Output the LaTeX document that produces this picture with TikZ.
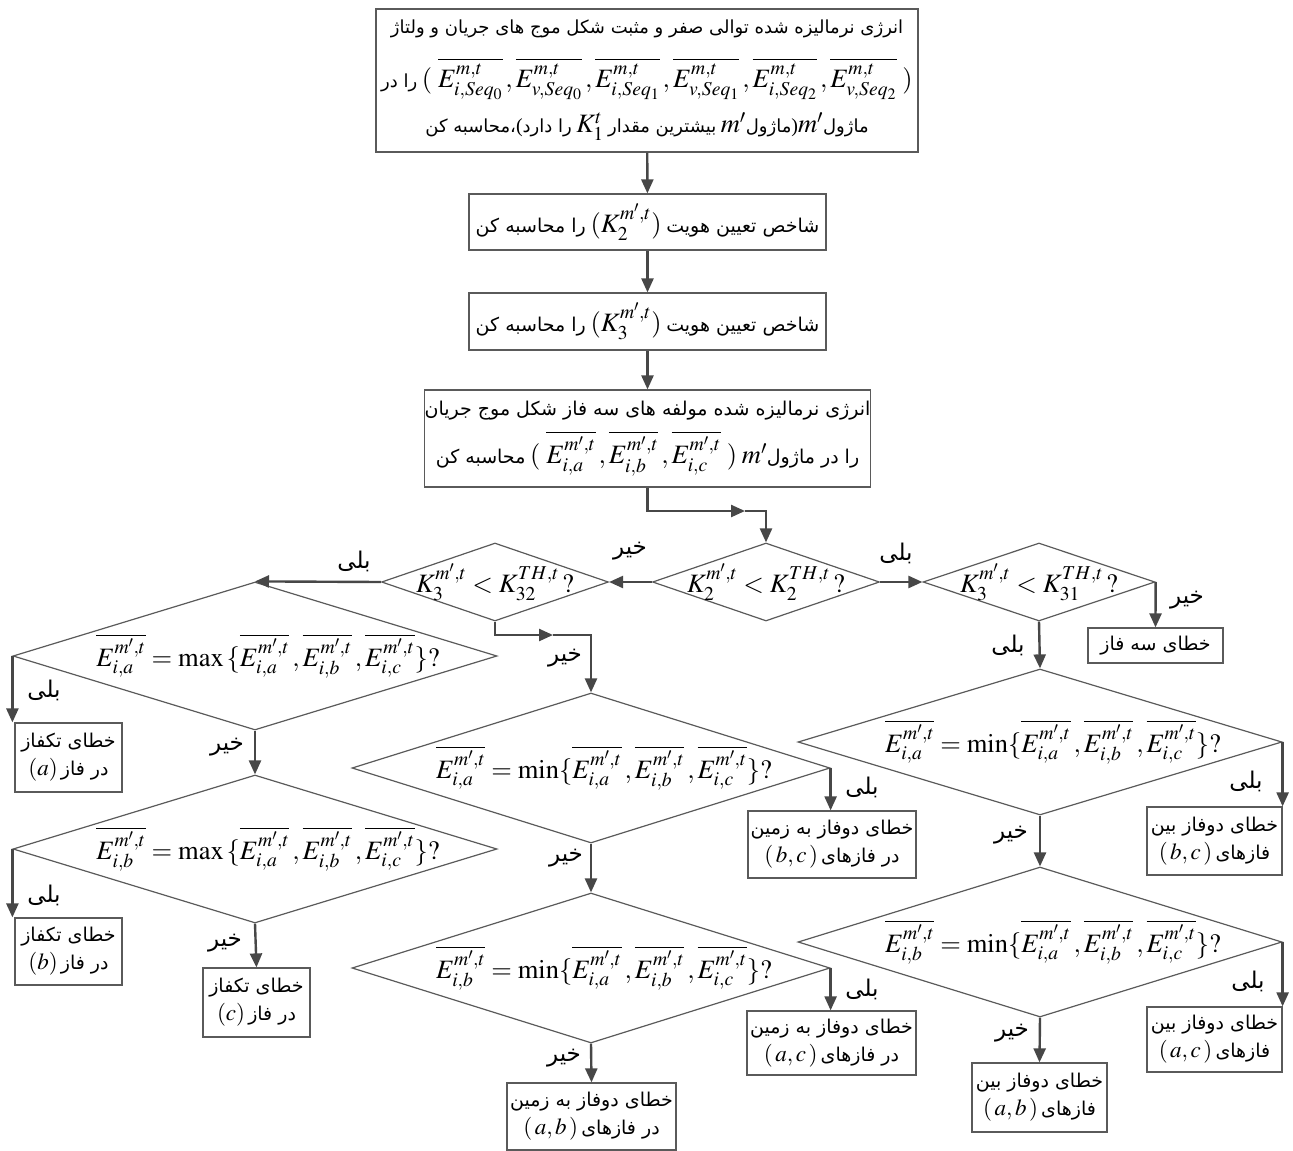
\documentclass[tikz,border=0pt]{standalone}
\usepackage{mathptmx}
\usepackage{fontspec}
\setmainfont{Liberation Serif}
\newfontfamily\arfont[Script=Arabic]{DejaVu Sans}
\TeXXeTstate=1
\usetikzlibrary{shapes.geometric,arrows.meta}
\definecolor{bordc}{HTML}{5A5A5A}
\definecolor{connc}{HTML}{474747}
\newcommand{\RR}[1]{{\arfont\beginR #1\endR}}
\newcommand{\Mb}[1]{{\fontsize{26.5}{30}\selectfont$#1$}}
\newcommand{\Ms}[1]{{\fontsize{23}{26}\selectfont$#1$}}
\newcommand{\pfont}{\fontsize{19}{28}\selectfont}
\newcommand{\tfont}{\fontsize{18}{28}\selectfont}
\newcommand{\lfont}{\fontsize{23}{26}\selectfont}
\newcommand{\Eb}[1]{\overline{E^{m',t}_{i,#1}}}
\tikzset{
  box/.style={draw=bordc, line width=1.2pt, fill=white, inner sep=0pt, align=center, font=\pfont},
  dia/.style={diamond, draw=bordc, line width=1.2pt, inner sep=0pt},
  dtext/.style={inner sep=0pt, font=\pfont},
  etext/.style={inner sep=0pt, font=\pfont, xshift=13pt},
  conn/.style={draw=connc, line width=2.4pt, -{Triangle[length=14pt,width=12pt]}},
  lbl/.style={font=\lfont, inner sep=0pt},
}
\begin{document}
\begin{tikzpicture}[x=1pt,y=-1pt]
\fill[white] (0,0) rectangle (1293,1151);
\useasboundingbox (0,0) rectangle (1293,1151);

% process boxes
\node[box, font=\tfont, minimum width=542pt, minimum height=143pt] (top) at (647,80.5) {%
\RR{انرژی نرمالیزه شده توالی صفر و مثبت شکل موج های جریان و ولتاژ}\\[19pt]
\RR{را در} \Mb{(\;\overline{E^{m,t}_{i,Seq_0}}\,,\overline{E^{m,t}_{v,Seq_0}}\,,\overline{E^{m,t}_{i,Seq_1}}\,,\overline{E^{m,t}_{v,Seq_1}}\,,\overline{E^{m,t}_{i,Seq_2}}\,,\overline{E^{m,t}_{v,Seq_2}}\;)}\\[12pt]
\RR{محاسبه کن}{\arfont ،}{\fontsize{20}{24}\selectfont (}\RR{را دارد} \Mb{K_1^t} \RR{بیشترین مقدار} \Mb{m'}\RR{ماژول}{\fontsize{20}{24}\selectfont )}\Mb{m'}\RR{ماژول}};

\node[box, minimum width=357pt, minimum height=56pt] (b2) at (647.5,222) {%
\RR{را محاسبه کن} \Mb{(K_2^{m',t})} \RR{شاخص تعیین هویت}};

\node[box, minimum width=357pt, minimum height=57pt] (b3) at (647.5,321.5) {%
\RR{را محاسبه کن} \Mb{(K_3^{m',t})} \RR{شاخص تعیین هویت}};

\node[box, minimum width=439pt, minimum height=97pt] (b4) at (647.5,438.5) {%
\RR{انرژی نرمالیزه شده مولفه های سه فاز شکل موج جریان}\\[10pt]
\RR{محاسبه کن} \Mb{(\;\Eb{a}\,,\Eb{b}\,,\Eb{c}\;)} \Mb{m'}\RR{را در ماژول}};

% decision diamonds
\node[dia, minimum width=227pt, minimum height=78pt,
  label={[dtext]center:\Mb{K_2^{m',t} < K_2^{TH,t}\,?}}] (k2) at (766,582) {};
\node[dia, minimum width=227pt, minimum height=78pt,
  label={[dtext]center:\Mb{K_3^{m',t} < K_{32}^{TH,t}\,?}}] (k32) at (495,582) {};
\node[dia, minimum width=232pt, minimum height=78pt,
  label={[dtext]center:\Mb{K_3^{m',t} < K_{31}^{TH,t}\,?}}] (k31) at (1039,582) {};

\node[dia, minimum width=484pt, minimum height=148pt,
  label={[etext]center:\Mb{\Eb{a} = \max\,\{\Eb{a}\,,\Eb{b}\,,\Eb{c}\}?}}] (dl1) at (255,656) {};
\node[dia, minimum width=484pt, minimum height=148pt,
  label={[etext]center:\Mb{\Eb{b} = \max\,\{\Eb{a}\,,\Eb{b}\,,\Eb{c}\}?}}] (dl2) at (255,849) {};
\node[dia, minimum width=478pt, minimum height=150pt,
  label={[etext]center:\Mb{\Eb{a} = \min\{\Eb{a}\,,\Eb{b}\,,\Eb{c}\}?}}] (dm1) at (591,768) {};
\node[dia, minimum width=478pt, minimum height=150pt,
  label={[etext]center:\Mb{\Eb{b} = \min\{\Eb{a}\,,\Eb{b}\,,\Eb{c}\}?}}] (dm2) at (591,968) {};
\node[dia, minimum width=484pt, minimum height=146pt,
  label={[etext]center:\Mb{\Eb{a} = \min\{\Eb{a}\,,\Eb{b}\,,\Eb{c}\}?}}] (dr1) at (1040,742) {};
\node[dia, minimum width=484pt, minimum height=150pt,
  label={[etext]center:\Mb{\Eb{b} = \min\{\Eb{a}\,,\Eb{b}\,,\Eb{c}\}?}}] (dr2) at (1040,942) {};

% result boxes
\node[box, minimum width=107pt, minimum height=69pt] (la) at (68.5,757.5) {\RR{خطای تکفاز}\\\Ms{(a)}\,\RR{در فاز}};
\node[box, minimum width=107pt, minimum height=67pt] (lb) at (68.5,951.5) {\RR{خطای تکفاز}\\\Ms{(b)}\,\RR{در فاز}};
\node[box, minimum width=107pt, minimum height=69pt] (lc) at (256.5,1002.5) {\RR{خطای تکفاز}\\\Ms{(c)}\,\RR{در فاز}};
\node[box, minimum width=168pt, minimum height=67pt] (mbc) at (832,844.5) {\RR{خطای دوفاز به زمین}\\\Ms{(\,b,c\,)}\,\RR{در فازهای}};
\node[box, minimum width=169pt, minimum height=64pt] (mac) at (831.5,1043) {\RR{خطای دوفاز به زمین}\\\Ms{(\,a,c\,)}\,\RR{در فازهای}};
\node[box, minimum width=169pt, minimum height=67pt] (mab) at (591.5,1116.5) {\RR{خطای دوفاز به زمین}\\\Ms{(\,a,b\,)}\,\RR{در فازهای}};
\node[box, minimum width=135pt, minimum height=35pt] (f3) at (1155.5,645.5) {\RR{خطای سه فاز}};
\node[box, minimum width=135pt, minimum height=68pt] (rbc) at (1214.5,841) {\RR{خطای دوفاز بین}\\\Ms{(\,b,c\,)}\,\RR{فازهای}};
\node[box, minimum width=135pt, minimum height=65pt] (rac) at (1214.5,1039.5) {\RR{خطای دوفاز بین}\\\Ms{(\,a,c\,)}\,\RR{فازهای}};
\node[box, minimum width=135pt, minimum height=69pt] (rab) at (1039.5,1097.5) {\RR{خطای دوفاز بین}\\\Ms{(\,a,b\,)}\,\RR{فازهای}};

% connectors
\draw[conn] (top) -- (b2);
\draw[conn] (b2) -- (b3);
\draw[conn] (b3) -- (b4);
\coordinate (m1) at (745,511);
\draw[conn] (b4.south) |- (m1);
\draw[conn] (m1) -| (k2.north);
\draw[conn] (k2.west) -- (k32.east);
\draw[conn] (k2.east) -- (k31.west);
\draw[conn] (k32.west) -- (dl1.north);
\coordinate (m2) at (553,635);
\draw[conn] (k32.south) |- (m2);
\draw[conn] (m2) -| (dm1.north);
\draw[conn] (k31.east) -- (f3.north);
\draw[conn] (k31.south) -- (dr1.north);
\draw[conn] (dr1.east) -- (dr1.east |- rbc.north);
\draw[conn] (dr1.south) -- (dr2.north);
\draw[conn] (dr2.east) -- (dr2.east |- rac.north);
\draw[conn] (dr2.south) -- (rab.north);
\draw[conn] (dm1.east) -- (dm1.east |- mbc.north);
\draw[conn] (dm1.south) -- (dm2.north);
\draw[conn] (dm2.east) -- (dm2.east |- mac.north);
\draw[conn] (dm2.south) -- (mab.north);
\draw[conn] (dl1.west) -- (dl1.west |- la.north);
\draw[conn] (dl1.south) -- (dl2.north);
\draw[conn] (dl2.west) -- (dl2.west |- lb.north);
\draw[conn] (dl2.south) -- (lc.north);

% branch labels
\node[lbl] (t1) at (630,551) {\RR{خیر}};
\node[lbl] (t2) at (896,553) {\RR{بلی}};
\node[lbl] (t3) at (354,561) {\RR{بلی}};
\node[lbl] (t4) at (565,658) {\RR{خیر}};
\node[lbl] (t5) at (1187,600) {\RR{خیر}};
\node[lbl] (t6) at (1008,645) {\RR{بلی}};
\node[lbl] (t7) at (1246,781) {\RR{بلی}};
\node[lbl] (t8) at (1011,835) {\RR{خیر}};
\node[lbl] (t9) at (1248,981) {\RR{بلی}};
\node[lbl] (t10) at (1012,1033) {\RR{خیر}};
\node[lbl] (t11) at (862,787) {\RR{بلی}};
\node[lbl] (t12) at (566,858) {\RR{خیر}};
\node[lbl] (t13) at (862,989) {\RR{بلی}};
\node[lbl] (t14) at (564,1058) {\RR{خیر}};
\node[lbl] (t15) at (44,690) {\RR{بلی}};
\node[lbl] (t16) at (227,747) {\RR{خیر}};
\node[lbl] (t17) at (44,895) {\RR{بلی}};
\node[lbl] (t18) at (225,943) {\RR{خیر}};
\end{tikzpicture}
\end{document}
